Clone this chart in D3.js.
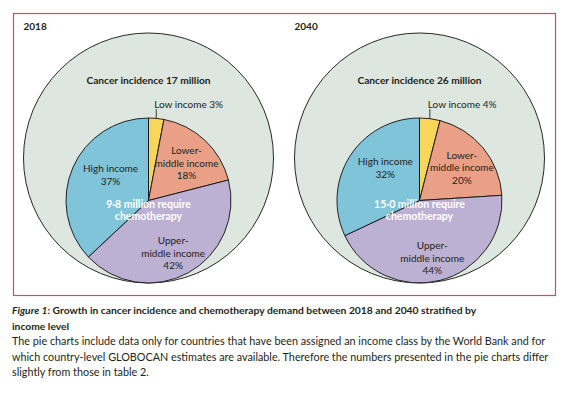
<!DOCTYPE html>
<html>
<head>
<meta charset="utf-8">
<script src="https://cdn.jsdelivr.net/npm/d3@7"></script>
<style>
  body { margin: 0; background: #fff; }
  svg text { font-family: Lato, "Noto Sans", sans-serif; fill: #231f20; }
</style>
</head>
<body>
<svg id="chart" width="572" height="393"></svg>
<script>
// data
var years = ["2018", "2040"];
var incidence = [17, 26];          // million new cases
var chemo = ["9·8", "15·0"];       // million needing chemotherapy
var categories = ["Low income", "Lower-middle income", "Upper-middle income", "High income"];
var share2018 = [3, 18, 42, 37];
var share2040 = [4, 20, 44, 32];
var shares = [share2018, share2040];

// label text for each slice (line breaks as printed)
var sliceLines = [["Low income"], ["Lower-", "middle income"], ["Upper-", "middle income"], ["High income"]];
var colors = ["#f8d65a", "#e9a086", "#bcb0d3", "#80c4da"];

var svg = d3.select("#chart");
var boxColor = "#c4506c";

// panels
var x = d3.scaleBand().domain(years).range([13, 555]);
var bigR = 125, pieR = 82.5;
var bigCy = 158;
var pieCy = bigCy + bigR - pieR;

svg.append("rect")
    .attr("x", 13.5).attr("y", 13.5)
    .attr("width", 542).attr("height", 282)
    .attr("fill", "none")
    .attr("stroke", boxColor)
    .attr("stroke-width", 1.2);

var pie = d3.pie().sort(null).value(function(d) { return d; });
var arc = d3.arc().innerRadius(0).outerRadius(pieR);
var labelArc = d3.arc().innerRadius(pieR * 0.62).outerRadius(pieR * 0.62);
// small nudges so labels sit like the printed ones
var nudge = [[0, 0], [3, 0], [0, 8], [9, -5]];

years.forEach(function(yr, i) {
    var cx = x(yr) + x.bandwidth() / 2;
    var g = svg.append("g");

    g.append("text")
        .attr("x", cx - bigR).attr("y", 30)
        .style("font-weight", "bold").style("font-size", "10px")
        .text(yr);

    g.append("circle")
        .attr("cx", cx).attr("cy", bigCy).attr("r", bigR)
        .attr("fill", "#dde6df")
        .attr("stroke", "#111").attr("stroke-width", 0.9);

    g.append("text")
        .attr("x", cx).attr("y", 84)
        .attr("text-anchor", "middle")
        .style("font-weight", "bold").style("font-size", "10.2px")
        .text("Cancer incidence " + incidence[i] + " million");

    var pg = g.append("g").attr("transform", "translate(" + cx + "," + pieCy + ")");
    var arcs = pie(shares[i]);

    pg.selectAll("path")
        .data(arcs)
        .enter().append("path")
        .attr("d", arc)
        .attr("fill", function(d, j) { return colors[j]; })
        .attr("stroke", "#111")
        .attr("stroke-width", 0.9);

    // slice labels (not the small low income slice)
    arcs.forEach(function(d, j) {
        if (j == 0) return;
        var c = labelArc.centroid(d);
        var lines = sliceLines[j].concat([d.data + "%"]);
        var lh = 12.5;
        var y0 = c[1] + nudge[j][1] - (lines.length - 1) * lh / 2 + 3.5;
        var t = pg.append("text")
            .attr("text-anchor", "middle")
            .style("font-size", "10px");
        lines.forEach(function(s, k) {
            t.append("tspan")
                .attr("x", c[0] + nudge[j][0])
                .attr("y", y0 + k * lh)
                .text(s);
        });
    });

    // low income label with leader line
    var a0 = arcs[0];
    var mid = (a0.startAngle + a0.endAngle) / 2;
    var ex = Math.sin(mid) * pieR, ey = -Math.cos(mid) * pieR;
    pg.append("line")
        .attr("x1", ex).attr("y1", ey)
        .attr("x2", ex).attr("y2", -pieR - 9)
        .attr("stroke", "#111").attr("stroke-width", 0.8);
    pg.append("text")
        .attr("x", ex - 2).attr("y", -pieR - 10)
        .style("font-size", "10px")
        .text(sliceLines[0][0] + " " + a0.data + "%");

    // centre text
    var ct = pg.append("text")
        .attr("text-anchor", "middle")
        .style("font-weight", "bold").style("font-size", "10.5px")
        .style("fill", "#fff");
    ct.append("tspan").attr("x", 0).attr("y", 7.5).text(chemo[i] + " million require");
    ct.append("tspan").attr("x", 0).attr("y", 19).text("chemotherapy");
});

// caption
var cap = svg.append("g").attr("transform", "translate(12,0)");
var t1 = cap.append("text").attr("y", 314)
    .style("font-weight", "bold").style("font-size", "10.3px");
t1.append("tspan").style("font-style", "italic").text("Figure 1");
t1.append("tspan").text(": Growth in cancer incidence and chemotherapy demand between 2018 and 2040 stratified by");
cap.append("text").attr("y", 329.5)
    .style("font-weight", "bold").style("font-size", "10.3px")
    .text("income level");
var body = [
    "The pie charts include data only for countries that have been assigned an income class by the World Bank and for",
    "which country-level GLOBOCAN estimates are available. Therefore the numbers presented in the pie charts differ",
    "slightly from those in table 2."
];
cap.selectAll("text.body")
    .data(body)
    .enter().append("text")
    .attr("class", "body")
    .attr("y", function(d, k) { return 345 + k * 15.5; })
    .style("font-size", "10.8px")
    .text(function(d) { return d; });
</script>
</body>
</html>
